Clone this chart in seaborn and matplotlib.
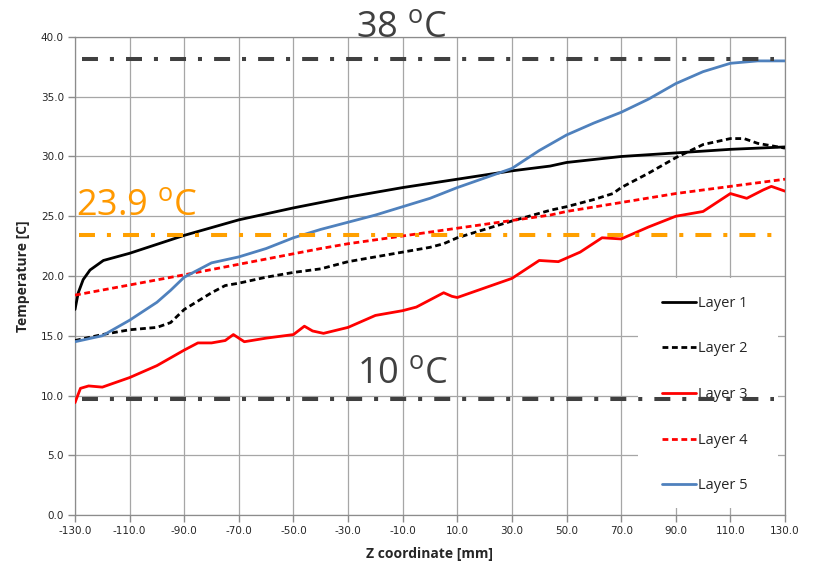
import matplotlib.pyplot as plt
import matplotlib.patches as mpatches
import seaborn as sns
import pandas as pd

# temperature profiles along z
z1 = [-130, -128.8, -127, -124.5, -119.6, -110, -90, -70, -50, -30, -10, 10, 30, 44, 50, 70, 90, 110, 130]
t1 = [17.2, 18.6, 19.7, 20.5, 21.3, 21.9, 23.4, 24.7, 25.7, 26.6, 27.4, 28.1, 28.8, 29.2, 29.5, 30.0, 30.3, 30.6, 30.8]

z2 = [-130, -120, -110, -100, -95, -90, -80, -75, -70, -60, -50, -40, -30, -10, 0, 5, 10, 20, 30, 44,
      50, 60, 67, 70, 80, 90, 100, 110, 115, 120, 130]
t2 = [14.6, 15.1, 15.5, 15.7, 16.1, 17.2, 18.6, 19.2, 19.4, 19.9, 20.3, 20.6, 21.2, 22.0, 22.4, 22.7, 23.2, 23.9, 24.6, 25.5,
      25.8, 26.4, 26.9, 27.4, 28.6, 29.9, 31.0, 31.5, 31.5, 31.1, 30.7]

z3 = [-130, -128, -125, -120, -110, -100, -90, -85, -80, -75, -72, -68, -60, -50, -46, -43, -39, -30, -20, -10, -5,
      0, 5, 8, 10, 20, 30, 40, 47, 55, 63, 70, 80, 90, 100, 110, 116, 122, 125, 130]
t3 = [9.4, 10.6, 10.8, 10.7, 11.5, 12.5, 13.8, 14.4, 14.4, 14.6, 15.1, 14.5, 14.8, 15.1, 15.8, 15.4, 15.2, 15.7, 16.7, 17.1, 17.4,
      18.0, 18.6, 18.3, 18.2, 19.0, 19.8, 21.3, 21.2, 22.0, 23.2, 23.1, 24.1, 25.0, 25.4, 26.9, 26.5, 27.2, 27.5, 27.1]

z4 = [-130, -90, -40, -30, 10, 44, 50, 90, 130]
t4 = [18.4, 20.1, 22.3, 22.7, 24.0, 25.1, 25.4, 26.9, 28.1]

z5 = [-130, -120, -110, -100, -95, -90, -80, -70, -60, -50, -40, -30, -20, -10, 0, 10, 20, 30, 40,
      50, 60, 70, 80, 90, 100, 110, 120, 130]
t5 = [14.5, 15.0, 16.3, 17.8, 18.8, 19.9, 21.1, 21.6, 22.3, 23.2, 23.9, 24.5, 25.1, 25.8, 26.5, 27.4, 28.2, 29.0, 30.5,
      31.8, 32.8, 33.7, 34.8, 36.1, 37.1, 37.8, 38.0, 38.0]

layers = ["Layer 1", "Layer 2", "Layer 3", "Layer 4", "Layer 5"]

# reference levels (dash-dot lines) and their labels
gray_levels = [38.2, 9.7]
gray_span = [-127.5, 126]
orange_level = 23.4
orange_span = [-128.5, 126]
level_labels = ["38", "10", "23.9"]

x_ticks = list(range(-130, 131, 20))
y_ticks = [0, 5, 10, 15, 20, 25, 30, 35, 40]

frames = []
for name, z, t in zip(layers, [z1, z2, z3, z4, z5], [t1, t2, t3, t4, t5]):
    frames.append(pd.DataFrame({"z": z, "T": t, "layer": name}))
df = pd.concat(frames, ignore_index=True)

sns.set_theme(style="whitegrid")
plt.rcParams["font.family"] = ["DejaVu Sans"]
plt.rcParams["mathtext.fontset"] = "custom"
plt.rcParams["mathtext.rm"] = "Open Sans"
plt.rcParams["lines.scale_dashes"] = False  # dash lengths below are in points

fig = plt.figure(figsize=(8.17, 5.66), dpi=100)
ax = fig.add_axes([75 / 817, 1 - 515 / 566, 710 / 817, 478 / 566])

palette = {"Layer 1": "black", "Layer 2": "black", "Layer 3": "#ff0000",
           "Layer 4": "#ff0000", "Layer 5": "#4f81bd"}
dashes = {"Layer 1": "", "Layer 2": (4.2, 2.6), "Layer 3": "",
          "Layer 4": (4.2, 2.6), "Layer 5": ""}
sns.lineplot(data=df, x="z", y="T", hue="layer", style="layer", palette=palette,
             dashes=dashes, sort=False, estimator=None, linewidth=2.0, ax=ax, zorder=3)

dd = (11.5, 8.6, 2.9, 8.7)
for lvl in gray_levels:
    ax.plot(gray_span, [lvl, lvl], color="#404040", linewidth=2.9, dashes=dd, zorder=6)
ax.plot(orange_span, [orange_level, orange_level], color="#ffa000", linewidth=2.9,
        dashes=dd, zorder=6)

big = dict(family="Open Sans", fontsize=26)
ax.text(-10.3, 40.0, level_labels[0] + r" $\mathregular{^o}$C", color="#404040",
        ha="center", va="baseline", clip_on=False, **big)
ax.text(-10.0, 11.05, level_labels[1] + r" $\mathregular{^o}$C", color="#404040",
        ha="center", va="baseline", **big)
ax.text(-129.5, 25.1, level_labels[2] + r" $\mathregular{^o}$C", color="#ff9900",
        ha="left", va="baseline", **big)

ax.set_xlim(-130, 130)
ax.set_ylim(0, 40)
ax.set_xticks(x_ticks)
ax.set_yticks(y_ticks)
ax.set_xticklabels([f"{v:.1f}" for v in x_ticks], fontsize=7.5)
ax.set_yticklabels([f"{v:.1f}" for v in y_ticks], fontsize=7.5)
ax.tick_params(axis="both", which="major", length=5, width=1, color="#8c8c8c",
               pad=3, direction="out", bottom=True, left=True)
ax.grid(True, color="#a6a6a6", linewidth=0.9)
ax.set_axisbelow(True)
for s in ax.spines.values():
    s.set_color("#8c8c8c")
    s.set_linewidth(0.9)

ax.set_xlabel("Z coordinate [mm]", family="Open Sans", fontweight="bold", fontsize=10, labelpad=8)
ax.set_ylabel("Temperature [C]", family="Open Sans", fontweight="bold", fontsize=10, labelpad=8)

# white box behind the legend that hides the grid
ax.add_patch(mpatches.Rectangle((0.793, 0.0146), 0.197, 0.481, transform=ax.transAxes,
                                facecolor="white", edgecolor="none", zorder=2))
handles, labels = ax.get_legend_handles_labels()
leg = ax.legend(handles, labels, loc="center left", bbox_to_anchor=(0.827, 0.252),
                frameon=False, prop={"family": "Open Sans", "size": 10.5},
                handlelength=2.3, handletextpad=0.15, labelspacing=2.1,
                borderpad=0, borderaxespad=0)
leg.set_zorder(2.5)

fig.savefig("out.png", dpi=100)
